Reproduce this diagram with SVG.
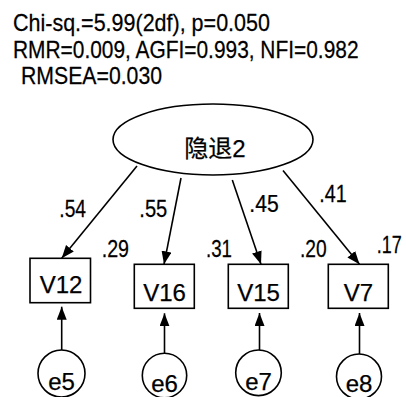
<svg xmlns="http://www.w3.org/2000/svg" width="406" height="397" viewBox="0 0 406 397">
<style>
  text { font-family: "Liberation Sans", "Noto Sans CJK SC", sans-serif; font-size: 24px; fill: #000; stroke: #000; stroke-width: 0.25; }
  .node { fill: #fff; stroke: #000; stroke-width: 1.6; }
  .edge { stroke: #000; stroke-width: 1.6; fill: none; marker-end: url(#arrow); }
</style>
<defs>
  <marker id="arrow" markerUnits="userSpaceOnUse" markerWidth="14" markerHeight="11" refX="13" refY="5" orient="auto">
    <path d="M0,0 L13,5 L0,10 z" fill="#000"/>
  </marker>
</defs>
<rect width="406" height="397" fill="#fff"/>
<g id="fit">
  <text transform="translate(13,31) scale(0.896,1.02)">Chi-sq.=5.99(2df), p=0.050</text>
  <text transform="translate(13,58) scale(0.871,1.02)">RMR=0.009, AGFI=0.993, NFI=0.982</text>
  <text transform="translate(21,84) scale(0.885,1.02)">RMSEA=0.030</text>
</g>
<g id="connectors">
  <line class="edge" x1="137" y1="166" x2="61.7" y2="258.3"/>
  <line class="edge" x1="181" y1="178" x2="164" y2="264.3"/>
  <line class="edge" x1="232.3" y1="180" x2="261" y2="264.3"/>
  <line class="edge" x1="283" y1="170.5" x2="359.5" y2="264.3"/>
  <line class="edge" x1="61.7" y1="350" x2="61.7" y2="306.7"/>
  <line class="edge" x1="164.5" y1="353.3" x2="164.5" y2="313.3"/>
  <line class="edge" x1="259.5" y1="350" x2="259.5" y2="313"/>
  <line class="edge" x1="359.5" y1="354" x2="359.5" y2="313"/>
</g>
<g id="labels">
  <text transform="translate(59.3,216.7) scale(0.8,1)">.54</text>
  <text transform="translate(139.3,216.7) scale(0.84,1)">.55</text>
  <text transform="translate(249.3,211.7) scale(0.88,1)">.45</text>
  <text transform="translate(319.3,201.7) scale(0.82,1)">.41</text>
  <text transform="translate(101.7,256.7) scale(0.82,1)">.29</text>
  <text transform="translate(206,256.7) scale(0.78,1)">.31</text>
  <text transform="translate(300,256.7) scale(0.8,1)">.20</text>
  <text transform="translate(376.7,253.3) scale(0.75,1)">.17</text>
</g>
<g id="F">
  <ellipse class="node" cx="213" cy="139.5" rx="100" ry="35.5"/>
  <text x="215" y="156.5" text-anchor="middle">隐退2</text>
</g>
<g id="V12">
  <rect class="node" x="30" y="258.3" width="60.5" height="44.4"/>
  <text x="61" y="293.3" text-anchor="middle">V12</text>
</g>
<g id="V16">
  <rect class="node" x="134.3" y="264.3" width="60" height="44"/>
  <text x="164.5" y="300.7" text-anchor="middle">V16</text>
</g>
<g id="V15">
  <rect class="node" x="228.3" y="264.3" width="60" height="44"/>
  <text x="258.5" y="300.7" text-anchor="middle">V15</text>
</g>
<g id="V7">
  <rect class="node" x="328.3" y="264.3" width="60" height="44"/>
  <text x="358.5" y="300.7" text-anchor="middle">V7</text>
</g>
<g id="e5">
  <circle class="node" cx="61.5" cy="373.5" r="23.5"/>
  <text x="61.5" y="390" text-anchor="middle">e5</text>
</g>
<g id="e6">
  <circle class="node" cx="164.5" cy="375.5" r="22.2"/>
  <text x="164.5" y="391.7" text-anchor="middle">e6</text>
</g>
<g id="e7">
  <circle class="node" cx="258.5" cy="372.8" r="22.8"/>
  <text x="258.5" y="389.5" text-anchor="middle">e7</text>
</g>
<g id="e8">
  <circle class="node" cx="359" cy="376.5" r="22.5"/>
  <text x="359" y="392" text-anchor="middle">e8</text>
</g>
</svg>
